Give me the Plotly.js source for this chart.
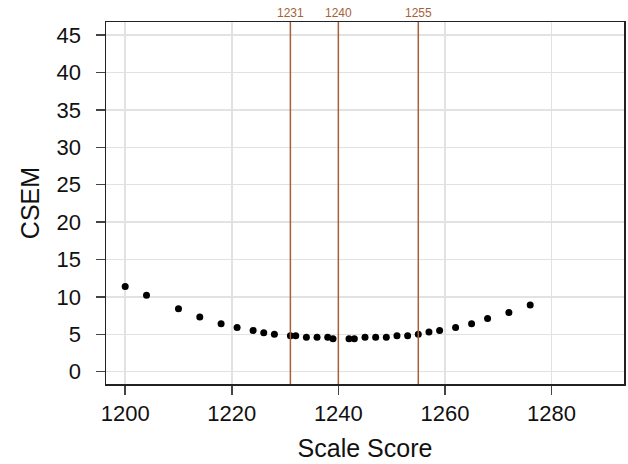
<!DOCTYPE html>
<html>
<head>
<meta charset="utf-8">
<script src="https://cdn.plot.ly/plotly-3.0.1.min.js"></script>
<style>html,body{margin:0;padding:0;background:#fff}#chart{width:628px;height:464px}</style>
</head>
<body>
<div id="chart"></div>
<script>
const scaleScore = [1200,1204,1210,1214,1218,1221,1224,1226,1228,1231,1232,1234,1236,1238,1239,1242,1243,1245,1247,1249,1251,1253,1255,1257,1259,1262,1265,1268,1272,1276];
const csem = [11.4,10.2,8.4,7.3,6.4,5.9,5.5,5.2,5.0,4.8,4.8,4.6,4.6,4.6,4.4,4.4,4.4,4.6,4.6,4.6,4.8,4.8,5.0,5.3,5.5,5.9,6.4,7.1,7.9,8.9];
const cutScores = [1231,1240,1255];
const xTicks = [1200,1220,1240,1260,1280];
const yTicks = [0,5,10,15,20,25,30,35,40,45];

const cutColor = '#a85f38';
const font = 'Liberation Sans, Arial, sans-serif';

const shapes = cutScores.map(c => ({
  type:'line', xref:'x', yref:'paper', x0:c, x1:c, y0:0, y1:1,
  line:{color:cutColor, width:1.5}, layer:'above'
}));
const annotations = cutScores.map(c => ({
  xref:'x', yref:'paper', x:c, y:1, yanchor:'bottom', yshift:0,
  text:String(c), showarrow:false, font:{family:font, size:12, color:cutColor}
}));

const trace = {
  x: scaleScore, y: csem, type:'scatter', mode:'markers',
  marker:{color:'#000', size:7}, hoverinfo:'x+y'
};

const layout = {
  width:628, height:464,
  margin:{l:106, r:4, t:22, b:80},
  paper_bgcolor:'#fff', plot_bgcolor:'#fff',
  showlegend:false,
  font:{family:font, color:'#111'},
  xaxis:{
    range:[1196.4,1293.6], tickvals:xTicks, ticktext:xTicks.map(String),
    ticks:'outside', ticklen:9, tickwidth:1.5, tickcolor:'#444',
    showgrid:true, gridcolor:'#e2e2e2', gridwidth:1.5, zeroline:false,
    showline:true, mirror:true, linecolor:'#222', linewidth:1.5,
    tickfont:{size:22, family:font, color:'#111'},
    title:{text:'Scale Score', font:{size:25, family:font, color:'#111'}, standoff:14}
  },
  yaxis:{
    range:[-1.65,46.75], tickvals:yTicks, ticktext:yTicks.map(String),
    ticks:'outside', ticklen:9, tickwidth:1.5, tickcolor:'#444',
    ticklabelstandoff:10,
    showgrid:true, gridcolor:'#e2e2e2', gridwidth:1.5, zeroline:false,
    showline:true, mirror:true, linecolor:'#222', linewidth:1.5,
    tickfont:{size:22, family:font, color:'#111'},
    title:{text:'CSEM', font:{size:25, family:font, color:'#111'}, standoff:10}
  },
  shapes: shapes,
  annotations: annotations
};

Plotly.newPlot('chart', [trace], layout, {displayModeBar:false, staticPlot:true});
</script>
</body>
</html>
